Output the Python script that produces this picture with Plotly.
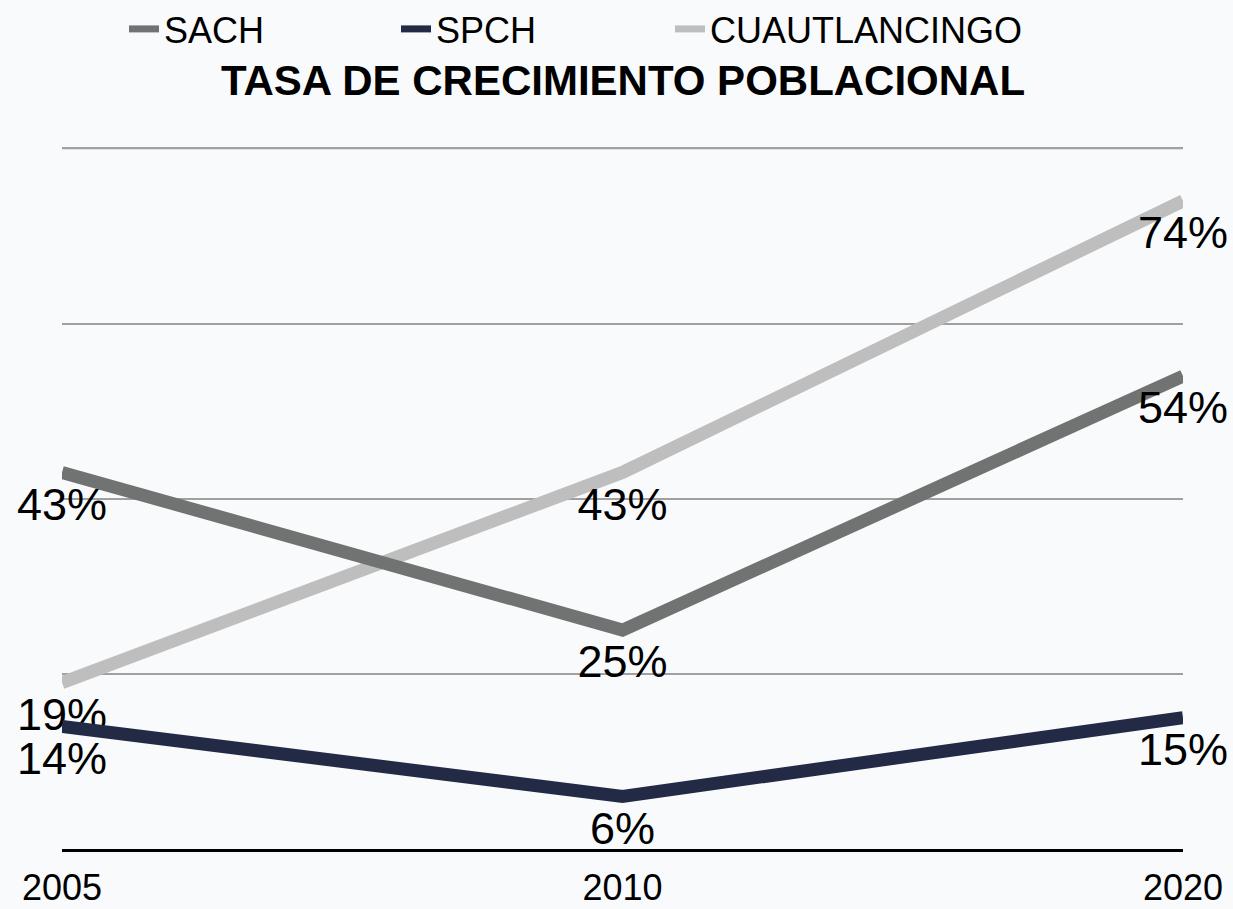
import plotly.graph_objects as go

years = ["2005", "2010", "2020"]
sach = [43, 25, 54]
spch = [14, 6, 15]
cuautlancingo = [19, 43, 74]
series_names = ["SACH", "SPCH", "CUAUTLANCINGO"]
colors = ["#717372", "#232a45", "#bebebe"]
title_text = "TASA DE CRECIMIENTO POBLACIONAL"
grid_values = [20, 40, 60, 80]

FONT = "Liberation Sans, Arial, Helvetica, sans-serif"
W, H = 1233, 909
GRID = "#a0a0a0"

series = list(zip(series_names, [sach, spch, cuautlancingo], colors))

fig = go.Figure()
# draw order: CUAUTLANCINGO below, SACH on top
for name, vals, col in [series[2], series[1], series[0]]:
    fig.add_trace(go.Scatter(
        x=years, y=vals, name=name, mode="lines+markers+text",
        line=dict(color=col, width=13),
        marker=dict(size=20, opacity=0, color=col),
        text=[f"{v}%" for v in vals],
        textposition="bottom center",
        textfont=dict(size=45, color="#000000", family=FONT),
        cliponaxis=False,
        hoverinfo="skip",
        showlegend=False,
    ))

# legend entries, each in its own legend box positioned like the reference
legend_ids = ["legend", "legend2", "legend3"]
legend_x = [124, 396, 670]
for (name, vals, col), lid in zip(series, legend_ids):
    fig.add_trace(go.Scatter(
        x=[None], y=[None], name=name, mode="lines", legend=lid,
        line=dict(color=col, width=7), hoverinfo="skip",
    ))

# top gridline (at the edge of the value range)
fig.add_hline(y=grid_values[-1], line_color=GRID, line_width=1.5, layer="below")

legend_common = dict(orientation="h", xref="container", xanchor="left",
                     yref="container", y=1 - 29 / H, yanchor="middle",
                     font=dict(size=36, family=FONT, color="#000000"),
                     bgcolor="rgba(0,0,0,0)")

fig.update_layout(
    width=W, height=H,
    paper_bgcolor="#f9fafc", plot_bgcolor="#f9fafc",
    margin=dict(l=62, r=50, t=144, b=60, autoexpand=False),
    font=dict(family=FONT, color="#000000"),
    title=dict(text=f"<b>{title_text}</b>", x=623 / W, xanchor="center",
               yref="container", y=1 - 80 / H, yanchor="middle",
               font=dict(size=42, family=FONT, color="#000000")),
    legend=dict(x=legend_x[0] / W, **legend_common),
    legend2=dict(x=legend_x[1] / W, **legend_common),
    legend3=dict(x=legend_x[2] / W, **legend_common),
    showlegend=True,
)
fig.update_xaxes(type="category", showgrid=False, showline=True, linecolor="#000000",
                 linewidth=3, ticks="", tickfont=dict(size=36, family=FONT, color="#000000"),
                 ticklabelstandoff=5, range=[0, 2], zeroline=False, automargin=False)
fig.update_yaxes(range=[0, 80.5], tickvals=grid_values, showgrid=True,
                 gridcolor=GRID, gridwidth=1.5, automargin=False,
                 showticklabels=False, zeroline=False, showline=False, ticks="")

fig.write_html(
    "out.html",
    config={"displayModeBar": False},
    post_script="document.body.style.margin='0';document.body.style.overflow='hidden';"
                "document.documentElement.style.overflow='hidden';",
)
